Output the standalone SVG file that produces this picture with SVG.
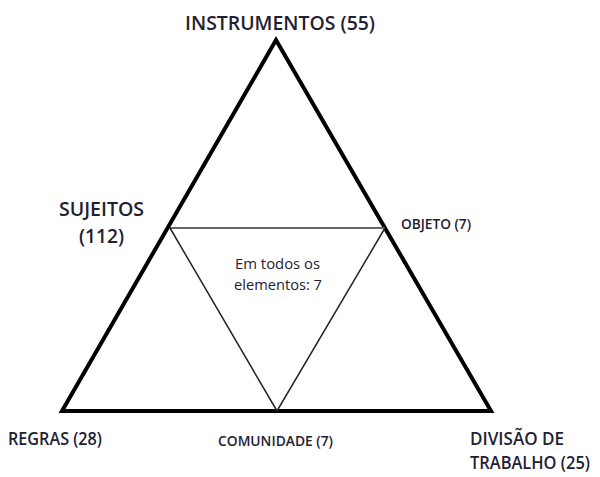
<svg xmlns="http://www.w3.org/2000/svg" width="600" height="477" viewBox="0 0 600 477">
<style>
.t{font-family:"Open Sans","Liberation Sans",sans-serif;font-weight:600;fill:#1f2133}
.r{font-family:"Open Sans","Liberation Sans",sans-serif;font-weight:400;fill:#1f2133}
.outer{fill:none;stroke:#000;stroke-width:4;stroke-linejoin:miter}
.inner{fill:none;stroke:#222;stroke-width:1.5}
.hline{stroke:#666;stroke-width:1.8}
</style>
<rect width="600" height="477" fill="#fff"/>
<g id="connectors">
<polygon class="outer" points="276,40 62,411 491,411"/>
<line class="hline" x1="170" y1="228" x2="385" y2="228"/>
<polyline class="inner" points="170,228 277,411 385,228"/>
</g>
<g id="instrumentos"><text class="t" x="185" y="30" font-size="19" textLength="190" lengthAdjust="spacingAndGlyphs">INSTRUMENTOS (55)</text></g>
<g id="sujeitos">
<text class="t" x="59" y="216" font-size="20" textLength="85" lengthAdjust="spacingAndGlyphs">SUJEITOS</text>
<text class="t" x="79" y="243" font-size="20" textLength="45" lengthAdjust="spacingAndGlyphs">(112)</text>
</g>
<g id="objeto"><text class="t" x="401" y="229" font-size="14" textLength="70" lengthAdjust="spacingAndGlyphs">OBJETO (7)</text></g>
<g id="centro">
<text class="r" x="235" y="269" font-size="15" textLength="85" lengthAdjust="spacingAndGlyphs">Em todos os</text>
<text class="r" x="234" y="290" font-size="15" textLength="88" lengthAdjust="spacingAndGlyphs">elementos: 7</text>
</g>
<g id="regras"><text class="t" x="8" y="445" font-size="18" textLength="94" lengthAdjust="spacingAndGlyphs">REGRAS (28)</text></g>
<g id="comunidade"><text class="t" x="218" y="446" font-size="14" textLength="115" lengthAdjust="spacingAndGlyphs">COMUNIDADE (7)</text></g>
<g id="divisao">
<text class="t" x="470" y="445" font-size="18" textLength="94" lengthAdjust="spacingAndGlyphs">DIVISÃO DE</text>
<text class="t" x="470" y="469" font-size="18" textLength="120" lengthAdjust="spacingAndGlyphs">TRABALHO (25)</text>
</g>
</svg>
